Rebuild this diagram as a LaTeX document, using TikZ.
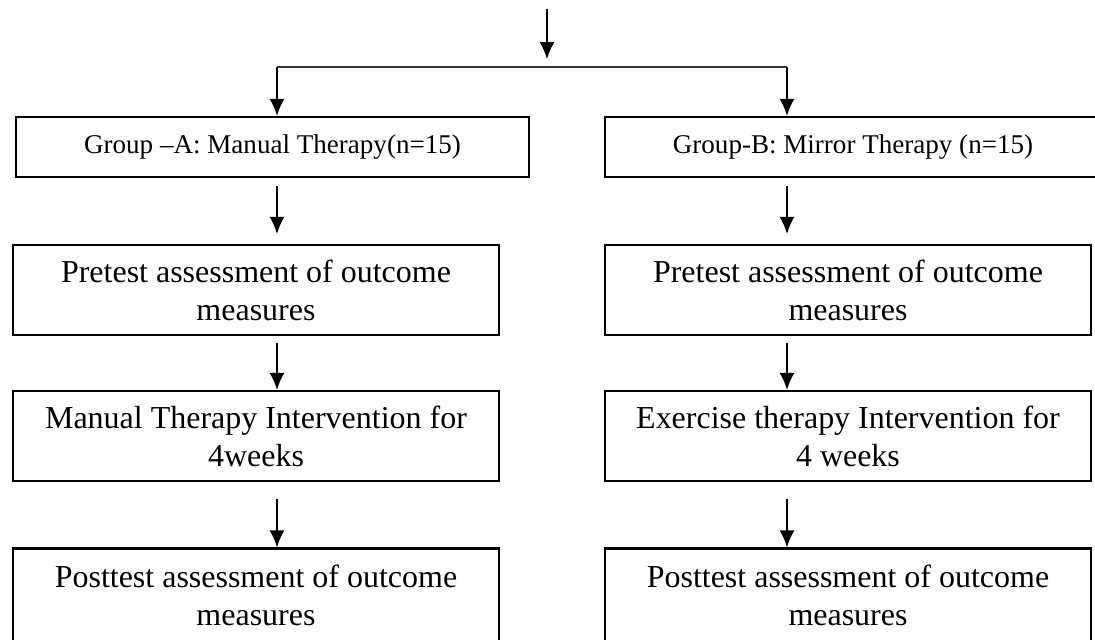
\documentclass[tikz,border=0pt]{standalone}
\usepackage{fontspec}
\setmainfont{Liberation Serif}
\usetikzlibrary{arrows.meta}

\begin{document}
\begin{tikzpicture}[every path/.style={>={Latex[length=0.34cm,width=0.3cm]}},
	groupbox/.style={rectangle,draw,line width=0.045cm,minimum height=1.2cm,font=\fontsize{15.4}{18}\selectfont},
	stagebox/.style={rectangle,draw,line width=0.045cm,minimum width=9.72cm,minimum height=1.8cm,align=center,font=\fontsize{18.2}{21.6}\selectfont},
	link/.style={->,line width=0.035cm}]
	\useasboundingbox (0,0) rectangle (21.9,-12.78);
	\node (GA) at (5.45,-2.94) [groupbox,minimum width=10.26cm] {Group –A: Manual Therapy(n=15)};
	\node (GB) at (17.06,-2.94) [groupbox,minimum width=9.92cm] {Group-B: Mirror Therapy (n=15)};
	\node (PreA) at (5.12,-5.8) [stagebox] {Pretest assessment of outcome\\measures};
	\node (PreB) at (16.96,-5.8) [stagebox] {Pretest assessment of outcome\\measures};
	\node (IntA) at (5.12,-8.72) [stagebox] {Manual Therapy Intervention for\\4weeks};
	\node (IntB) at (16.96,-8.72) [stagebox] {Exercise therapy Intervention for\\4 weeks};
	\node (PostA) at (5.12,-11.9) [stagebox,minimum height=1.86cm] {Posttest assessment of outcome\\measures};
	\node (PostB) at (16.96,-11.9) [stagebox,minimum height=1.86cm] {Posttest assessment of outcome\\measures};
	\coordinate (colA) at (5.54,0);
	\coordinate (colB) at (15.74,0);
	\coordinate (top) at (10.94,-0.18);
	\coordinate (split) at (10.94,-1.34);
	\draw[link,shorten >=0.16cm] (top) -- (split);
	\draw[line width=0.045cm,black!80] (split -| colA) -- (split -| colB);
	\draw[link] (split -| colA) -- (GA.north -| colA);
	\draw[link] (split -| colB) -- (GB.north -| colB);
	\draw[link,shorten <=0.16cm,shorten >=0.2cm] (GA.south -| colA) -- (PreA.north -| colA);
	\draw[link,shorten <=0.16cm,shorten >=0.2cm] (GB.south -| colB) -- (PreB.north -| colB);
	\draw[link,shorten <=0.14cm] (PreA.south -| colA) -- (IntA.north -| colA);
	\draw[link,shorten <=0.14cm] (PreB.south -| colB) -- (IntB.north -| colB);
	\draw[link,shorten <=0.34cm] (IntA.south -| colA) -- (PostA.north -| colA);
	\draw[link,shorten <=0.34cm] (IntB.south -| colB) -- (PostB.north -| colB);
\end{tikzpicture}
\end{document}
